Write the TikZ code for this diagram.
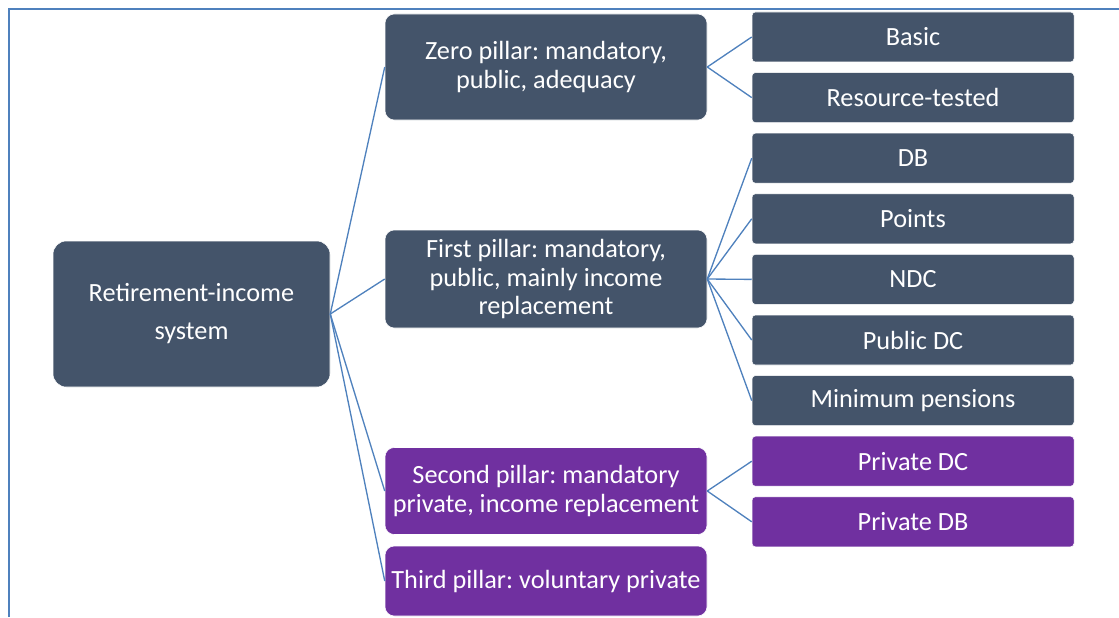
\documentclass[tikz,border=0pt]{standalone}
\usepackage{fontspec}
\setmainfont{Carlito}
\frenchspacing
\definecolor{slate}{HTML}{44546A}
\definecolor{plum}{HTML}{7030A0}
\definecolor{wire}{HTML}{4F81BD}
\tikzset{
  anybox/.style={fill=slate,draw=white,line width=0.4pt,text=white,align=center,inner sep=0pt},
  rootbox/.style={anybox,rounded corners=10pt,minimum width=207.75pt,minimum height=109.5pt,font=\fontsize{19.7}{28.5}\selectfont},
  pillar/.style={anybox,rounded corners=7pt,minimum width=241.5pt,font=\fontsize{19.7}{21.2}\selectfont},
  leaf/.style={anybox,rounded corners=2.5pt,minimum width=241.5pt,minimum height=37.5pt,font=\fontsize{19.7}{21.2}\selectfont},
  wire/.style={draw=wire,line width=1pt}
}
\begin{document}
\begin{tikzpicture}[x=0.75pt,y=-0.75pt]
\pgfmathsetmacro{\kxa}{191.5}
\pgfmathsetmacro{\kxb}{546}
\pgfmathsetmacro{\kxc}{913}
\pgfmathsetmacro{\kysep}{60.6}
\useasboundingbox (0,0) rectangle (1119,617);
\draw[wire,line width=1.5pt](9,617)--(9,9)--(1119,9);
\node[rootbox](root) at (\kxa,314){Retirement-income\\system};
\node[pillar,minimum height=79.5pt](zero) at (\kxb,67){Zero pillar: mandatory,\\public, adequacy};
\node[pillar,minimum height=73.5pt](first) at (\kxb,279){First pillar: mandatory,\\public, mainly income\\replacement};
\node[pillar,fill=plum,minimum height=65.25pt](second) at (\kxb,491){Second pillar: mandatory\\private, income replacement};
\node[pillar,fill=plum,minimum height=52.5pt](third) at (\kxb,581){Third pillar: voluntary private};
\foreach \n/\t/\c [count=\i from 0] in {basic/Basic/slate,restest/Resource-tested/slate,db/DB/slate,points/Points/slate,ndc/NDC/slate,pubdc/Public DC/slate,minpen/Minimum pensions/slate,privdc/Private DC/plum,privdb/Private DB/plum}
  \node[leaf,fill=\c](\n) at (\kxc,37+\kysep*\i){\t};
\foreach \n in {zero,first,second,third}\draw[wire](root.east)--(\n.west);
\foreach \n in {basic,restest}\draw[wire](zero.east)--(\n.west);
\foreach \n in {db,points,ndc,pubdc,minpen}\draw[wire](first.east)--(\n.west);
\foreach \n in {privdc,privdb}\draw[wire](second.east)--(\n.west);
\end{tikzpicture}
\end{document}
